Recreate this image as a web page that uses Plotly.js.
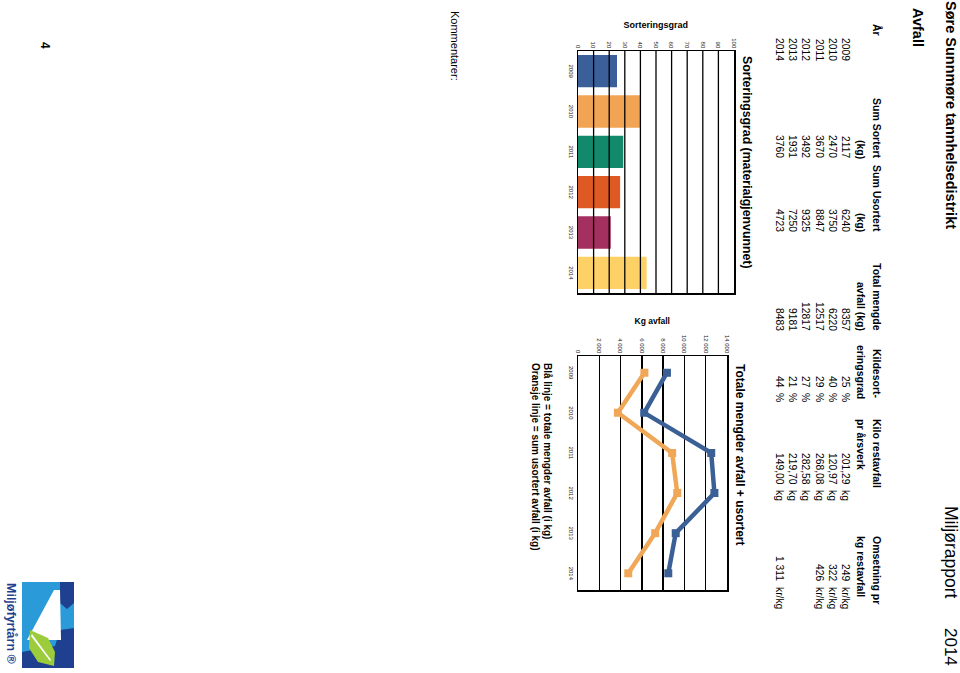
<!DOCTYPE html>
<html><head><meta charset="utf-8">
<script src="https://cdn.plot.ly/plotly-3.0.1.min.js"></script>
<style>
html,body{margin:0;padding:0;background:#fff;overflow:hidden;width:960px;height:673px}
#page{position:absolute;left:0;top:0;width:673px;height:960px;transform-origin:0 0;transform:translate(960px,0) rotate(90deg);}
</style></head><body><div id="page"></div>
<script>
// ---------- data ----------
const years = ['2009','2010','2011','2012','2013','2014'];
const sumSortert = [2117, 2470, 3670, 3492, 1931, 3760];
const sumUsortert = [6240, 3750, 8847, 9325, 7250, 4723];
const totalMengde = [8357, 6220, 12517, 12817, 9181, 8483];
const kildesortering = [25, 40, 29, 27, 21, 44];
const kiloRestavfall = ['201,29','120,97','268,08','282,58','219,70','149,00'];
const omsetning = ['249','322','426','','','1 311'];
const headers1 = ['År','Sum Sortert','Sum Usortert','Total mengde','Kildesort-','Kilo restavfall','Omsetning pr'];
const headers2 = ['','(kg)','(kg)','avfall (kg)','eringsgrad','pr årsverk','kg restavfall'];
const barTicks = [0,10,20,30,40,50,60,70,80,90,100];
const lineTicks = [0,2000,4000,6000,8000,10000,12000,14000];
const lineTickText = ['0','2 000','4 000','6 000','8 000','10 000','12 000','14 000'];

// ---------- styles ----------
const barColors = ['#3b5f99','#f0a454','#12896b','#df5a22','#a3305f','#fdd166'];
const BLUE = '#3a6096', ORANGE = '#f0a858';
const FONT = 'Liberation Sans, Arial, Helvetica, sans-serif';
const W = 673, H = 960;
const px = u => u / W, py = u => 1 - u / H;

function ann(text, ux, uy, opt) {
  opt = opt || {};
  return {
    xref: 'paper', yref: 'paper', x: px(ux), y: py(uy), text: text,
    showarrow: false, xanchor: opt.xa || 'left', yanchor: opt.ya || 'middle',
    borderpad: 0, textangle: opt.angle || 0,
    font: {family: FONT, size: opt.size || 10, color: opt.color || '#000'}
  };
}
const B = s => '<b>' + s + '</b>';
const annotations = [];

// page texts
annotations.push(ann(B('Søre Sunnmøre tannhelsedistrikt'), 0, 9, {size: 14.5}));
annotations.push(ann('Miljørapport', 505, 9, {size: 17.5}));
annotations.push(ann('2014', 667, 9, {size: 17, xa: 'right'}));
annotations.push(ann(B('Avfall'), 7, 42, {size: 14.5}));

// table header
const hPos = [[23,'left'],[160,'right'],[233,'right'],[332,'right'],[400,'right'],[418,'left'],[535,'left']];
headers1.forEach((h, i) => {
  annotations.push(ann(B(h), hPos[i][0], 83, {size: 10.5, xa: hPos[i][1]}));
  if (headers2[i]) annotations.push(ann(B(headers2[i]), hPos[i][0], 99, {size: 10.5, xa: hPos[i][1]}));
});
// table rows
years.forEach((y, r) => {
  const uy = 115 + 13 * r;
  annotations.push(ann(y, 62, uy, {xa: 'right', size: 10.3}));
  annotations.push(ann(String(sumSortert[r]), 159, uy, {xa: 'right', size: 10.3}));
  annotations.push(ann(String(sumUsortert[r]), 233, uy, {xa: 'right', size: 10.3}));
  annotations.push(ann(String(totalMengde[r]), 332, uy, {xa: 'right', size: 10.3}));
  annotations.push(ann(String(kildesortering[r]), 389, uy, {xa: 'right', size: 10.3}));
  annotations.push(ann('%', 392, uy, {size: 10.3}));
  annotations.push(ann(kiloRestavfall[r], 486, uy, {xa: 'right', size: 10.3}));
  annotations.push(ann('kg', 489, uy, {size: 10.3}));
  if (omsetning[r]) {
    annotations.push(ann(omsetning[r], 582, uy, {xa: 'right', size: 10.3}));
    annotations.push(ann('kr/kg', 586, uy, {size: 10.3}));
  }
});

// chart titles / axis titles
annotations.push(ann(B('Sorteringsgrad (materialgjenvunnet)'), 55, 213, {size: 12.3}));
annotations.push(ann(B('Totale mengder avfall + usortert'), 363, 220, {size: 12}));
annotations.push(ann(B('Sorteringsgrad'), 24.5, 304, {size: 9, xa: 'center', angle: -90}));
annotations.push(ann(B('Kg avfall'), 320.5, 308, {size: 8.5, xa: 'center', angle: -90}));
annotations.push(ann(B('Blå linje = totale mengder avfall (i kg)'), 362, 412, {size: 10}));
annotations.push(ann(B('Oransje linje = sum usortert avfall (i kg)'), 362, 425, {size: 10}));
annotations.push(ann('Kommentarer:', 10, 505, {size: 11}));
annotations.push(ann(B('4'), 46, 915, {size: 12, xa: 'center'}));
annotations.push(ann(B('Miljøfyrtårn ®'), 582, 949, {size: 12.5, color: '#1f3f8f'}));

// gridlines above bars (drawn in data coords of the bar axis)
const shapes = barTicks.slice(1, -1).map(v => ({
  type: 'line', xref: 'x domain', yref: 'y', x0: 0, x1: 1, y0: v, y1: v,
  line: {color: '#000', width: 1.3}, layer: 'above'
}));

// logo (paper coords)
function poly(pts, fill) {
  const d = 'M' + pts.map(p => px(p[0]) + ',' + py(p[1])).join('L') + 'Z';
  return {type: 'path', xref: 'paper', yref: 'paper', path: d, fillcolor: fill, line: {width: 0}, layer: 'above'};
}
shapes.push(poly([[582,886],[668,886],[668,938],[582,938]], '#2a9ad8'));
shapes.push(poly([[582,886],[603,886],[609,893],[603,900],[582,900]], '#1f3f8f'));
shapes.push(poly([[628,886],[668,886],[668,938],[652,938],[646,905],[630,900]], '#1f3f8f'));
shapes.push(poly([[590,900],[590,906],[640,933],[640,899]], '#ffffff'));
shapes.push(poly([[630,930],[638,912],[652,905],[666,906],[662,922],[648,931]], '#9ccc3c'));
shapes.push(poly([[634,928],[660,909],[661,910],[636,929]], '#ffffff'));

const axisCommon = {
  showline: true, mirror: true, linecolor: '#000', linewidth: 1.5,
  ticks: '', zeroline: false, fixedrange: true,
  tickfont: {family: FONT, size: 6, color: '#222'}
};

const data = [
  {type: 'bar', x: years, y: kildesortering, xaxis: 'x', yaxis: 'y',
   marker: {color: barColors, line: {width: 0}}, width: 0.8, hoverinfo: 'skip'},
  {type: 'scatter', mode: 'lines+markers', x: years, y: totalMengde, xaxis: 'x2', yaxis: 'y2',
   line: {color: BLUE, width: 4.5}, marker: {symbol: 'square', size: 8, color: BLUE}, hoverinfo: 'skip'},
  {type: 'scatter', mode: 'lines+markers', x: years, y: sumUsortert, xaxis: 'x2', yaxis: 'y2',
   line: {color: ORANGE, width: 4.5}, marker: {symbol: 'square', size: 8, color: ORANGE}, hoverinfo: 'skip'}
];

const layout = {
  width: W, height: H, margin: {l: 0, r: 0, t: 0, b: 0},
  paper_bgcolor: '#fff', plot_bgcolor: '#fff', showlegend: false,
  font: {family: FONT},
  xaxis: Object.assign({}, axisCommon, {domain: [px(51), px(293)], anchor: 'y', type: 'category', showgrid: false}),
  yaxis: Object.assign({}, axisCommon, {domain: [py(382), py(226)], anchor: 'x', range: [0, 100],
    tickvals: barTicks, showgrid: false}),
  xaxis2: Object.assign({}, axisCommon, {domain: [px(356), px(590)], anchor: 'y2', type: 'category', showgrid: false}),
  yaxis2: Object.assign({}, axisCommon, {domain: [py(382), py(233)], anchor: 'x2', range: [0, 14000],
    tickvals: lineTicks, ticktext: lineTickText, showgrid: true, gridcolor: '#000', gridwidth: 1.3}),
  annotations: annotations,
  shapes: shapes
};

Plotly.newPlot('page', data, layout, {staticPlot: true, displayModeBar: false});
</script></body></html>
